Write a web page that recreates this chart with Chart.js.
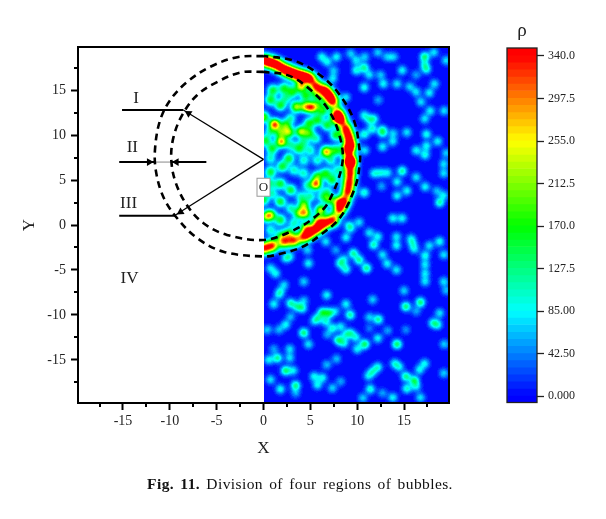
<!DOCTYPE html>
<html>
<head>
<meta charset="utf-8">
<script src="https://cdn.jsdelivr.net/npm/chart.js@4"></script>
<style>
  html, body { margin: 0; padding: 0; background: #fff; }
  #page { position: relative; width: 606px; height: 519px; overflow: hidden; }
  canvas { position: absolute; left: 0; top: 0; }
  #rhoTitle { position: absolute; left: 502px; width: 40px; top: 19px; text-align: center; font: 19px "Liberation Serif", serif; color: #222; }
  #caption { position: absolute; left: 0; width: 600px; top: 475px; text-align: center; font: 15.5px "Liberation Serif", serif; color: #111; letter-spacing: 0.4px; word-spacing: 2px; }
</style>
</head>
<body>
<div id="page">
  <canvas id="mainChart" width="606" height="519"></canvas>
  <canvas id="barChart" width="606" height="519"></canvas>
  <div id="rhoTitle">ρ</div>
  <div id="caption"><b>Fig. 11.</b> Division of four regions of bubbles.</div>
</div>
<script>
// Eixos
const axisLimit = 19.8;
const majorTicks = [-15, -10, -5, 0, 5, 10, 15];
const minorTicks = [-17.5, -12.5, -7.5, -2.5, 2.5, 7.5, 12.5, 17.5];

// Picos de densidade: [x, y, rho]
const rimPeaks = [
  [0,18.3,300],[0.75,18.1,300],[1.5,17.8,300],[2.2,17.3,300],[2.9,17,300],[3.6,16.7,300],[4.3,16.5,300],[5,16.3,280],
  [5.6,15.4,290],[6.5,15,300],[7,14.4,300],[7.4,13.7,300],[7.9,12.4,300],[8.25,11.7,300],[8.8,10.7,300],[9.1,9.8,300],
  [9.3,8.9,300],[9,8.3,300],[9.25,7.2,300],[9.25,6.85,300],[9.25,5.74,300],[9.15,4.7,300],[9,3.7,300],[8.6,2.6,300],
  [8.1,1.7,300],[7.4,0.55,300],[6.5,0.2,300],[5.75,-0.37,300],[5,-0.85,290],[4.3,-1.3,280],[3.25,-1.74,280],[2.2,-1.85,280],
  [0.93,-2.3,300],[0,-2.6,300]
];
const innerPeaks = [
  [1,15,170],[2.2,15.2,170],[3.1,14.8,170],[0.75,13.9,170],[1.8,13.3,170],[2.36,14.1,110],[3.5,13.15,240],[4.5,13.15,240],
  [5.2,13.07,290],[6.3,12.7,170],[0,12,220],[1.2,11.2,340],[2.36,11.1,170],[2.9,11.85,110],[4.86,11.3,170],[4.86,10.2,170],
  [2.7,10.3,220],[4,10.4,240],[1.8,10.3,170],[0.75,10.4,110],[0.2,9.4,170],[1.9,9.26,300],[0.93,8.5,170],[2.9,8.9,110],
  [4.3,9.26,110],[5.6,9.6,110],[3.8,8.5,170],[5,8.3,110],[6.7,8.15,300],[7.7,8.3,170],[7.7,10,170],[6.8,11.1,170],
  [5.75,11.7,170],[7.7,11.85,150],[2.7,7.4,170],[0.75,7.4,110],[4.3,7.2,110],[5.75,7.2,110],[7.2,7.2,110],[4.5,14.4,170],
  [5.6,14.4,110],[4,15.4,250],[5.9,13.5,110],[0.75,5.9,170],[2,6.5,170],[3.25,6.1,110],[4.3,5.74,110],[5.75,5.4,170],
  [5.6,4.55,320],[6.65,5.74,170],[7.35,5,170],[1.8,4.6,170],[2.9,3.9,170],[4.7,4.4,110],[6.8,3.7,110],[7.9,6.1,110],
  [6.3,3.15,110],[7,2.8,170],[0.75,1.1,250],[0.2,0.9,170],[4.3,2.2,210],[3.8,1.3,200],[4.5,1.3,230],[1.8,2.6,170],
  [2.9,1.85,110],[6.1,1.66,250],[7.9,2.6,170],[1.8,0.55,170],[3.25,0.2,110],[4.5,-0.2,170],[0.75,-0.56,110],[1.8,-1.1,110],
  [2.7,-0.9,170],[0,2.8,170],[5.75,0.55,170],[0.93,3.5,110],[5,3.15,110],[4,3.15,110],[0,4.6,110],[0.75,4.6,110]
];
const upperPeaks = [
  [6.2,18.7,110],[6.8,18.15,110],[7.8,18.7,110],[9.3,19.07,90],[9.9,18.3,100],[10.8,18.7,90],[12.2,19.2,90],[13.2,18.7,85],
  [13.9,18.7,85],[17.2,18.7,170],[18.2,19.2,100],[19.5,18.3,100],[9.9,17.2,120],[10.75,17.5,150],[7.5,17.2,85],[11.3,16.7,100],
  [12.5,16.7,85],[14.8,17.2,110],[16.3,16.7,70],[17.4,17.3,110],[17.2,17.8,100],[7.4,16.3,100],[10.75,15.3,120],[12.8,15.7,110],
  [14.25,15.7,100],[15.6,15.4,90],[16.3,14.8,100],[18.25,15.7,100],[17.7,14.7,110],[8.8,14.2,100],[12.25,13.9,70],[16.8,13.7,100],
  [10.75,12.2,110],[11.8,11.8,110],[11.3,11.7,100],[12.7,10.6,110],[12.7,10.2,110],[10.75,10.1,130],[11.6,10.7,130],[13.85,10.2,90],
  [15.3,10.3,100],[17.4,10.1,120],[17.8,12.7,110],[19.3,12.7,100],[17.2,11.8,100],[13.8,9.3,100],[12.7,8.7,110],[17.4,8.8,110],
  [18.6,9.3,110],[16.3,8.3,110],[17.25,7.8,120],[10.8,8.3,100],[19.5,8,90]
];
const middlePeaks = [
  [11.8,5.74,110],[12.5,5.8,100],[13.25,5.8,100],[14.8,6,150],[19.25,6.8,100],[19.25,5.74,100],[16.3,5.3,100],[14.25,4.8,110],
  [12.6,4.3,70],[17.25,4.26,110],[15.3,3.8,110],[14.25,3.26,110],[10.75,3.6,130],[18.5,3.8,80],[19.25,3.3,100],[18.8,2.5,140],
  [13.8,0.74,110],[14.8,0.74,110],[10.2,0.3,100],[9.1,0,90],[9.3,-0.4,100],[11.3,-0.85,100],[12.2,-1.3,110],[11.75,-2.2,140],
  [14.2,-1.3,100],[14.2,-2.3,110],[15.75,-1.5,90],[15.9,-2.04,90],[16.1,-2.67,100],[17.7,-2.3,100],[18.8,-1.85,120],[19.25,-3.3,100],
  [17.25,-3.4,120],[17.25,-4.4,100],[9.6,-3.15,150],[10.2,-3.9,150],[12.7,-3.3,100],[13.2,-4.3,110],[14.2,-5,100],[17.25,-5.4,100],
  [8.8,-1.4,110],[6.65,-1.85,100],[4.7,-2.8,90],[2.8,-3.5,100],[2.36,-3.7,100],[4.8,-4.26,110],[8.6,-3.8,90],[8.2,-4.26,130],
  [8.8,-4.9,130],[11,-4.8,160],[0.75,-4.8,100],[1.3,-5.4,110],[7.7,-2.8,70]
];
const lowerPeaks = [
  [4.3,-6.3,90],[2.2,-6.66,90],[1.8,-7.4,90],[1.6,-7.8,80],[17.25,-6.3,100],[19.25,-6.3,100],[15,-7.3,90],[19.5,-7.3,80],
  [6.75,-7.8,110],[11.65,-8.3,90],[8.8,-8.8,110],[1.1,-8.8,110],[2.9,-8.7,140],[3.6,-9.07,120],[4.15,-9.26,120],[4.3,-8.4,80],
  [15.2,-9.07,170],[16.75,-8.6,170],[16.3,-9.6,70],[6.3,-9.74,170],[7,-9.8,170],[7.7,-9.6,80],[5.75,-10.4,120],[9.25,-10,150],
  [12.25,-10.5,150],[11.3,-10.26,90],[18.8,-9.8,100],[18.1,-10.9,120],[18.6,-11.1,110],[2.9,-10.2,80],[2.36,-11.1,110],[0.4,-11.66,90],
  [1.65,-11.66,80],[4.3,-12,170],[6.65,-10.74,120],[7.35,-11.5,120],[8.25,-11.3,100],[5.4,-10.74,70],[15.2,-11.66,60],[13.25,-11.74,70],
  [11.3,-11.5,50],[9.3,-12,110],[9.85,-12.5,110],[8.8,-12.2,100],[6.8,-12.2,70],[8,-12.8,160],[8.6,-13.15,110],[4.8,-13.26,100],
  [12.2,-12.6,110],[10.8,-13.26,180],[14.25,-13.26,180],[10,-13.8,110],[19.3,-13.26,90],[1.1,-13.8,70],[2.8,-13.8,100],[1.5,-14.8,150],
  [0.57,-15,110],[2.8,-14.8,100],[7.8,-14.9,80],[6.75,-15.55,80],[17.2,-15.4,110],[16.65,-16.1,110],[14,-15.4,110],[14.5,-15.8,100],
  [12.2,-15.8,120],[11.65,-16.3,110],[11.2,-16.8,100],[19.25,-16.5,90],[2.36,-16.2,170],[3.2,-16.2,100],[5.4,-16.85,110],[6.3,-17,110],
  [5.75,-17.8,110],[15.2,-16.85,160],[16.1,-17.3,170],[16.3,-18,100],[15.3,-18.2,130],[0.75,-17.2,100],[1.8,-18.26,120],[3.43,-17.85,160],
  [3.43,-18.7,70],[8.25,-17.4,70],[7.35,-18.15,90],[11.4,-18.26,130],[10.6,-19.26,90],[12.7,-18.7,70],[13.8,-19.2,110],[16.75,-19.2,100]
];

// Contornos tracejados das regiões
const outerCircle = [
  [0,18.8],[-2.8,18.67],[-5.67,17.6],[-8.17,15.9],[-9.96,13.9],[-11.03,11.67],[-11.56,8.7],[-11.5,6.1],[-10.7,3.14],[-9.24,0.78],
  [-7.1,-1.44],[-4.28,-2.97],[0,-3.5],[1.82,-3.2],[4.14,-2.44],[6.1,-1.1],[8.24,0.92],[9.85,4.44],[10.28,6.9],[10.28,8.14],
  [9.64,11.67],[7.9,14.8],[5.75,16.9],[3.2,18.3],[0,18.8]
];
const innerCircle = [
  [0,17.03],[-2.46,16.97],[-4.96,15.9],[-7.1,14.44],[-8.7,12.2],[-9.6,9.8],[-9.85,7.4],[-9.4,4.8],[-8.17,2.2],[-6.4,0.2],
  [-3.9,-1.1],[0,-1.67],[2.89,-0.74],[5.35,0.78],[6.96,2.6],[8.42,6.9],[8.1,10],[6.82,13],[4.6,15.4],[2.54,16.67],[0,17.03]
];

// Linhas indicadoras
const lineOne = [[-15.1,12.78],[-8.56,12.78]];
const lineTwoLeft = [[-15.4,7],[-11.6,7]];
const lineTwoMid = [[-11.6,7],[-9.9,7]];
const lineTwoRight = [[-9.9,7],[-6.1,7]];
const lineThree = [[-15.4,1.03],[-9.4,1.03]];
const rayOne = [[0,7.3],[-8.56,12.78]];
const rayThree = [[0,7.3],[-9.4,1.1]];
const arrowHeads = [[-8,12.42],[-12.2,7],[-9.3,7],[-8.85,1.45]];
const arrowAngles = [-58.5, 90, -90, -122.5];

// Rótulos das regiões
const regionNames = ['I', 'II', 'III', 'IV'];
const regionX = [-13.6, -14, -14.4, -14.3];
const regionY = [14.1, 8.65, 2.4, -6];
const originLabel = 'O';
const originPos = [0, 4.2];

// Barra de cores
const barMin = -6.5;
const barMax = 348;
const barStep = 7.09;
const barTicks = [0, 42.5, 85, 127.5, 170, 212.5, 255, 297.5, 340];
const barTickLabels = ['0.000', '42.50', '85.00', '127.5', '170.0', '212.5', '255.0', '297.5', '340.0'];
const jetStops = [[0, 0, 0, 255], [85, 0, 255, 255], [170, 0, 255, 0], [255, 255, 255, 0], [340, 255, 0, 0]];

const FONT = '"Liberation Serif", serif';

function jet(v) {
    const s = jetStops;
    if (v <= s[0][0]) return s[0].slice(1);
    for (let i = 1; i < s.length; i++) {
        if (v <= s[i][0]) {
            const t = (v - s[i - 1][0]) / (s[i][0] - s[i - 1][0]);
            return [0, 1, 2].map(k => Math.round(s[i - 1][k + 1] + t * (s[i][k + 1] - s[i - 1][k + 1])));
        }
    }
    return s[s.length - 1].slice(1);
}

// Cada pico vira um sprite gaussiano; a soma é recolorida depois.
// Largura e ganho por família de picos (borda, interior, bolhas soltas)
const spriteStyle = {
    rim: { sigma: 4.5, gain: 1 },
    inner: { sigma: 3.9, gain: 0.9 },
    outer: { sigma: 3.4, gain: 0.76 }
};
const spriteCache = {};
function blobSprite(rho, family) {
    const key = family + Math.round(rho);
    if (spriteCache[key]) return spriteCache[key];
    const st = spriteStyle[family];
    const half = 14, size = half * 2 + 1;
    const c = document.createElement('canvas');
    c.width = c.height = size;
    const g = c.getContext('2d');
    const img = g.createImageData(size, size);
    for (let j = 0; j < size; j++) {
        for (let i = 0; i < size; i++) {
            const d2 = (i - half) ** 2 + (j - half) ** 2;
            const p = (j * size + i) * 4;
            img.data[p] = img.data[p + 1] = img.data[p + 2] = 255;
            img.data[p + 3] = Math.round(255 * (st.gain * rho / barMax) * Math.exp(-d2 / (2 * st.sigma * st.sigma)));
        }
    }
    g.putImageData(img, 0, 0);
    spriteCache[key] = c;
    return c;
}

const colorTable = [];
for (let v = 0; v < 256; v++) {
    const rho = v / 255 * barMax;
    colorTable.push(jet(Math.floor(rho / barStep) * barStep + barStep / 2));
}

function toPoints(list) {
    return list.map(p => ({ x: p[0], y: p[1] }));
}

function peakPoints(list, family) {
    return list.map(p => ({ x: p[0], y: p[1], rho: p[2], family: family }));
}

const densityPoints = peakPoints(rimPeaks, 'rim').concat(
    peakPoints(innerPeaks, 'inner'),
    peakPoints(upperPeaks, 'outer'),
    peakPoints(middlePeaks, 'outer'),
    peakPoints(lowerPeaks, 'outer')
);

function heatRect(chart) {
    const a = chart.chartArea;
    const left = Math.round(chart.scales.x.getPixelForValue(0));
    return { left: left, top: Math.round(a.top), w: Math.round(a.right) - left, h: Math.round(a.bottom) - Math.round(a.top) };
}

// Soma os sprites sobre fundo preto e troca os níveis pelo mapa de cores
const heatPlugin = {
    id: 'heat',
    beforeDatasetDraw(chart, args) {
        if (args.index !== 0) return;
        const r = heatRect(chart);
        const ctx = chart.ctx;
        ctx.save();
        ctx.fillStyle = '#000';
        ctx.fillRect(r.left, r.top, r.w, r.h);
        ctx.beginPath();
        ctx.rect(r.left, r.top, r.w, r.h);
        ctx.clip();
        ctx.globalCompositeOperation = 'lighter';
    },
    afterDatasetDraw(chart, args) {
        if (args.index !== 0) return;
        const ctx = chart.ctx;
        ctx.restore();
        const r = heatRect(chart);
        const img = ctx.getImageData(r.left, r.top, r.w, r.h);
        const d = img.data;
        for (let p = 0; p < d.length; p += 4) {
            const col = colorTable[d[p]];
            d[p] = col[0]; d[p + 1] = col[1]; d[p + 2] = col[2]; d[p + 3] = 255;
        }
        ctx.putImageData(img, r.left, r.top);
    }
};

// Moldura, ticks menores e rótulos
const decorPlugin = {
    id: 'decor',
    afterDraw(chart) {
        const ctx = chart.ctx, a = chart.chartArea, sx = chart.scales.x, sy = chart.scales.y;
        ctx.save();
        ctx.strokeStyle = '#000';
        ctx.lineWidth = 2;
        minorTicks.forEach(v => {
            const px = Math.round(sx.getPixelForValue(v));
            const py = Math.round(sy.getPixelForValue(v));
            ctx.beginPath();
            ctx.moveTo(px, a.bottom); ctx.lineTo(px, a.bottom + 4);
            ctx.moveTo(a.left, py); ctx.lineTo(a.left - 4, py);
            ctx.stroke();
        });
        ctx.strokeRect(a.left, a.top, a.right - a.left, a.bottom - a.top);

        ctx.fillStyle = '#222';
        ctx.font = '17px ' + FONT;
        ctx.textAlign = 'center';
        ctx.textBaseline = 'middle';
        regionNames.forEach((t, i) => {
            ctx.fillText(t, sx.getPixelForValue(regionX[i]), sy.getPixelForValue(regionY[i]));
        });

        const ox = sx.getPixelForValue(originPos[0]), oy = sy.getPixelForValue(originPos[1]);
        ctx.fillStyle = '#fff';
        ctx.fillRect(ox - 6.5, oy - 9, 13, 18);
        ctx.strokeStyle = '#999';
        ctx.lineWidth = 1;
        ctx.strokeRect(ox - 6.5, oy - 9, 13, 18);
        ctx.fillStyle = '#222';
        ctx.font = '13px ' + FONT;
        ctx.fillText(originLabel, ox, oy + 0.5);
        ctx.restore();
    }
};

function guideLine(points, color, width, dash) {
    return {
        data: toPoints(points), showLine: true, borderColor: color, borderWidth: width,
        borderDash: dash || [], pointRadius: 0, tension: 0, fill: false
    };
}

function mainAxis(title, position, size) {
    return {
        type: 'linear', position: position, min: -axisLimit, max: axisLimit,
        afterBuildTicks(scale) { scale.ticks = majorTicks.map(v => ({ value: v })); },
        afterFit(scale) {
            if (position === 'left') scale.width = size; else scale.height = size;
        },
        border: { display: false },
        grid: { drawOnChartArea: false, drawTicks: true, tickLength: 7, tickColor: '#000', tickWidth: 2 },
        ticks: {
            color: '#222', font: { family: FONT, size: 14 }, padding: position === 'left' ? 5 : 3,
            maxRotation: 0, autoSkip: false, callback: v => String(v)
        },
        title: { display: true, text: title, color: '#222', font: { family: FONT, size: 17 }, padding: 0 }
    };
}

new Chart(document.getElementById('mainChart'), {
    type: 'scatter',
    plugins: [heatPlugin, decorPlugin],
    data: {
        datasets: [
            {
                data: densityPoints, order: 10, showLine: false, pointRadius: 1,
                pointStyle: c => (c.raw ? blobSprite(c.raw.rho, c.raw.family) : 'circle')
            },
            Object.assign(guideLine(outerCircle, '#000', 2.6, [7, 5]), { tension: 0.35 }),
            Object.assign(guideLine(innerCircle, '#000', 2.6, [7, 5]), { tension: 0.35 }),
            guideLine(lineOne, '#000', 2),
            guideLine(lineTwoLeft, '#000', 2),
            guideLine(lineTwoMid, '#888', 1),
            guideLine(lineTwoRight, '#000', 2),
            guideLine(lineThree, '#000', 2),
            guideLine(rayOne, '#000', 1.2),
            guideLine(rayThree, '#000', 1.2),
            {
                data: toPoints(arrowHeads), showLine: false, pointStyle: 'triangle', pointRadius: 4.5,
                pointRotation: arrowAngles, backgroundColor: '#000', borderColor: '#000', borderWidth: 0
            }
        ]
    },
    options: {
        responsive: false,
        animation: false,
        events: [],
        layout: { padding: { left: 19, right: 157, top: 47, bottom: 60 } },
        plugins: { legend: { display: false }, tooltip: { enabled: false } },
        scales: { x: mainAxis('X', 'bottom', 56), y: mainAxis('Y', 'left', 59) }
    }
});

// Barra de cores: uma faixa flutuante por nível
const bandEdges = [];
for (let e = barMax; e > barMin; e -= barStep) bandEdges.push(e);
const bandSets = bandEdges.map(top => ({
    data: [[Math.max(top - barStep, barMin), top]],
    backgroundColor: 'rgb(' + jet(top - barStep / 2).join(',') + ')',
    borderWidth: 0, barPercentage: 1, categoryPercentage: 1, grouped: false
}));

new Chart(document.getElementById('barChart'), {
    type: 'bar',
    data: { labels: [''], datasets: bandSets },
    plugins: [{
        id: 'barFrame',
        afterDraw(chart) {
            const a = chart.chartArea, ctx = chart.ctx;
            ctx.save();
            ctx.strokeStyle = '#222';
            ctx.lineWidth = 1.3;
            ctx.strokeRect(a.left, a.top, a.right - a.left, a.bottom - a.top);
            ctx.restore();
        }
    }],
    options: {
        responsive: false,
        animation: false,
        events: [],
        layout: { padding: { left: 507, right: 0, top: 48, bottom: 116.5 } },
        plugins: { legend: { display: false }, tooltip: { enabled: false } },
        scales: {
            x: { display: false, stacked: false },
            y: {
                position: 'right', min: barMin, max: barMax,
                afterBuildTicks(scale) { scale.ticks = barTicks.map(v => ({ value: v })); },
                afterFit(scale) { scale.width = 69; },
                border: { display: false },
                grid: { drawOnChartArea: false, tickLength: 7, tickColor: '#222', tickWidth: 1.3 },
                ticks: {
                    color: '#222', font: { family: FONT, size: 12 }, padding: 4, autoSkip: false,
                    callback: v => barTickLabels[barTicks.indexOf(v)]
                }
            }
        }
    }
});
</script>
</body>
</html>
